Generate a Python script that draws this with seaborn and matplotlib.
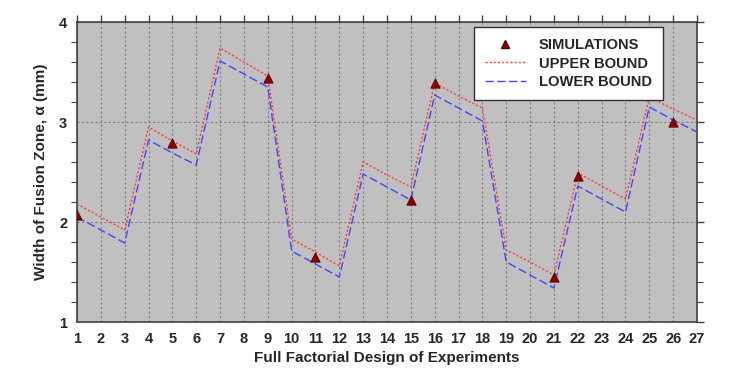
import numpy as np
import pandas as pd
import matplotlib
matplotlib.use("Agg")
import matplotlib.pyplot as plt
import seaborn as sns
from matplotlib.ticker import MultipleLocator
from matplotlib.lines import Line2D

experiments = list(range(1, 28))
upper_bound = [2.18, 2.05, 1.92, 2.95, 2.81, 2.68, 3.74, 3.60, 3.46,
               1.83, 1.70, 1.56, 2.60, 2.47, 2.35, 3.39, 3.26, 3.14,
               1.72, 1.60, 1.47, 2.49, 2.36, 2.23, 3.25, 3.13, 3.02]
lower_bound = [2.05, 1.92, 1.79, 2.82, 2.69, 2.57, 3.61, 3.48, 3.35,
               1.71, 1.58, 1.45, 2.48, 2.35, 2.22, 3.27, 3.14, 3.01,
               1.60, 1.47, 1.34, 2.36, 2.23, 2.10, 3.15, 3.02, 2.90]
sim_x = [1, 5, 9, 11, 15, 16, 21, 22, 26]
sim_y = [2.07, 2.79, 3.44, 1.65, 2.22, 3.39, 1.45, 2.46, 3.00]

sns.set_style("white")
plt.rcParams['font.family'] = ['Liberation Sans', 'DejaVu Sans']
plt.rcParams['font.weight'] = 'bold'

fig = plt.figure(figsize=(7.53, 3.80), dpi=100)
ax = fig.add_axes([77/753, 58/380, 620/753, 300/380])
ax.set_facecolor('#C0C0C0')

df = pd.DataFrame({'x': experiments, 'upper': upper_bound, 'lower': lower_bound})
sim = pd.DataFrame({'x': sim_x, 'y': sim_y})

sns.lineplot(data=df, x='x', y='upper', ax=ax, color='#FF3B3B', lw=1.0, zorder=3)
ax.lines[-1].set_dashes((1.5, 1.5))
sns.lineplot(data=df, x='x', y='lower', ax=ax, color='#4444FF', lw=1.0, zorder=3)
ax.lines[-1].set_dashes((6, 2.5))
sns.scatterplot(data=sim, x='x', y='y', ax=ax, marker='^', s=45,
                color='#8B0000', edgecolor='#5A0000', linewidth=0.6, zorder=4)

ax.set_xlim(1, 27)
ax.set_ylim(1, 4)
ax.set_xticks(experiments)
ax.set_yticks([1, 2, 3, 4])
ax.yaxis.set_minor_locator(MultipleLocator(0.2))
ax.grid(True, which='major', color='#808080', linestyle=(0, (2, 2)), lw=0.8)
ax.set_axisbelow(True)
for s in ax.spines.values():
    s.set_color('#404040')
    s.set_linewidth(1.2)
ax.tick_params(axis='both', which='major', direction='out', length=5, width=1,
               color='#404040', labelsize=10.5, top=True, right=True,
               labeltop=False, labelright=False, pad=2)
ax.tick_params(axis='y', which='minor', direction='out', length=4, width=0.8,
               color='#404040', left=True, right=True)
for lab in ax.get_xticklabels() + ax.get_yticklabels():
    lab.set_fontweight('bold')

ax.set_xlabel('Full Factorial Design of Experiments', fontsize=11,
              fontweight='bold', labelpad=4)
ax.set_ylabel('Width of Fusion Zone, \u03b1 (mm)', fontsize=11,
              fontweight='bold', labelpad=8)

handles = [
    Line2D([], [], marker='^', color='#8B0000', markeredgecolor='#5A0000',
           linestyle='none', markersize=5.5),
    Line2D([], [], color='#FF3B3B', lw=1.0, dashes=(1.5, 1.5)),
    Line2D([], [], color='#4444FF', lw=1.0, dashes=(6, 2.5)),
]
leg = ax.legend(handles, ['SIMULATIONS', 'UPPER BOUND', 'LOWER BOUND'],
                loc='upper right', bbox_to_anchor=(0.945, 0.983),
                frameon=True, fancybox=False, framealpha=1,
                edgecolor='#303030', handlelength=2.75, handletextpad=0.9,
                borderpad=0.75, labelspacing=0.3, borderaxespad=0,
                prop={'weight': 'bold', 'size': 10.6})
leg.get_frame().set_linewidth(1.0)

fig.savefig('out.png', dpi=100)
